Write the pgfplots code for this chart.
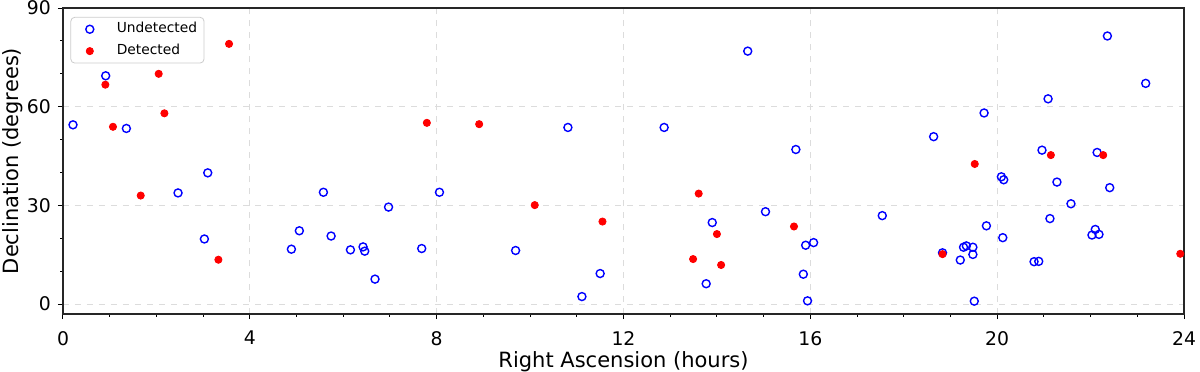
\documentclass[border=0pt]{standalone}
\usepackage{fontspec}
\setmainfont{DejaVu Sans}
\usepackage{pgfplots}
\pgfplotsset{compat=1.18}

\definecolor{gridgray}{RGB}{220,220,220}
\definecolor{legframe}{RGB}{204,204,204}

\begin{document}
\begin{tikzpicture}
\begin{axis}[
    at={(0,0)}, anchor=south west,
    scale only axis,
    width=560.5pt, height=153pt,
    xmin=0, xmax=24, ymin=-3, ymax=90,
    xtick={0,4,...,24}, ytick={0,30,60,90},
    minor xtick={1,2,...,23}, minor ytick={10,20,40,50,70,80},
    xtick pos=bottom, ytick pos=left,
    tick align=outside,
    major tick length=2.6pt, minor tick length=1.3pt,
    every tick/.style={black, line width=0.5pt},
    axis line style={line width=0.8pt, black!85},
    grid=major,
    major grid style={gridgray, line width=0.6pt, dash pattern=on 3pt off 3pt},
    tick label style={font=\fontsize{9.4}{11}\selectfont},
    xticklabel style={yshift=-2.5pt},
    /pgf/number format/assume math mode=true,
    xlabel={Right Ascension (hours)},
    ylabel={Declination (degrees)},
    label style={font=\fontsize{10.5}{12}\selectfont},
    xlabel style={yshift=4pt},
    ylabel style={yshift=-5pt},
    legend style={at={(0.0066,0.971)}, anchor=north west,
        font=\fontsize{6.9}{8}\selectfont, draw=legframe, rounded corners=2pt,
        fill=white, inner xsep=1.5pt, inner ysep=0.6pt, row sep=0.2pt},
    legend cell align=left,
    legend image code/.code={%
        \path[draw=none, fill=none] (-8pt,-2pt) rectangle (11.5pt,2pt);
        \draw[mark repeat=2,mark phase=2] plot coordinates {(-1pt,0pt) (0pt,0pt) (1pt,0pt)};},
]
\addplot[only marks, mark=o, mark size=2pt, blue, line width=0.7pt] coordinates {
(0.214,54.5) (0.914,69.4) (1.357,53.4) (2.463,33.8) (3.099,39.9) (3.027,19.8)
(4.89,16.7) (5.06,22.3) (5.575,34.0) (5.74,20.7) (6.154,16.5) (6.424,17.4)
(6.46,16.1) (6.68,7.6) (6.97,29.5) (7.68,16.9) (8.06,34.0) (9.69,16.3)
(10.81,53.7) (11.11,2.3) (11.50,9.3) (12.87,53.7) (13.77,6.2) (13.90,24.8)
(14.66,76.9) (15.04,28.1) (15.69,47.0) (15.85,9.1) (15.90,17.9) (15.94,1.0)
(16.07,18.7) (17.54,26.9) (18.64,50.9) (18.83,15.6) (19.21,13.4) (19.28,17.3)
(19.34,17.7) (19.48,17.3) (19.48,15.1) (19.51,0.9) (19.72,58.1) (19.77,23.8)
(20.09,38.7) (20.14,37.8) (20.12,20.2) (20.79,12.9) (20.89,13.0) (20.96,46.8)
(21.09,62.4) (21.13,26.0) (21.28,37.1) (21.58,30.5) (22.03,21.0) (22.10,22.7)
(22.18,21.2) (22.14,46.1) (22.36,81.5) (22.41,35.4) (23.18,67.1)
};
\addlegendentry{Undetected}
\addplot[only marks, mark=*, mark size=1.8pt, red, mark options={draw=red, fill=red}] coordinates {
(0.907,66.7) (1.07,53.9) (1.664,33.0) (2.049,70.0) (2.171,58.0) (3.555,79.1)
(3.327,13.5) (7.79,55.1) (8.91,54.7) (10.10,30.1) (11.55,25.1) (13.49,13.7)
(13.61,33.6) (14.00,21.3) (14.09,11.9) (15.65,23.6) (18.83,15.2) (19.52,42.6)
(21.15,45.3) (22.27,45.3) (23.92,15.3)
};
\addlegendentry{Detected}
\end{axis}
\pgfresetboundingbox
\path (-31.5pt,-28.5pt) rectangle (568.5pt,157pt);
\end{tikzpicture}
\end{document}
